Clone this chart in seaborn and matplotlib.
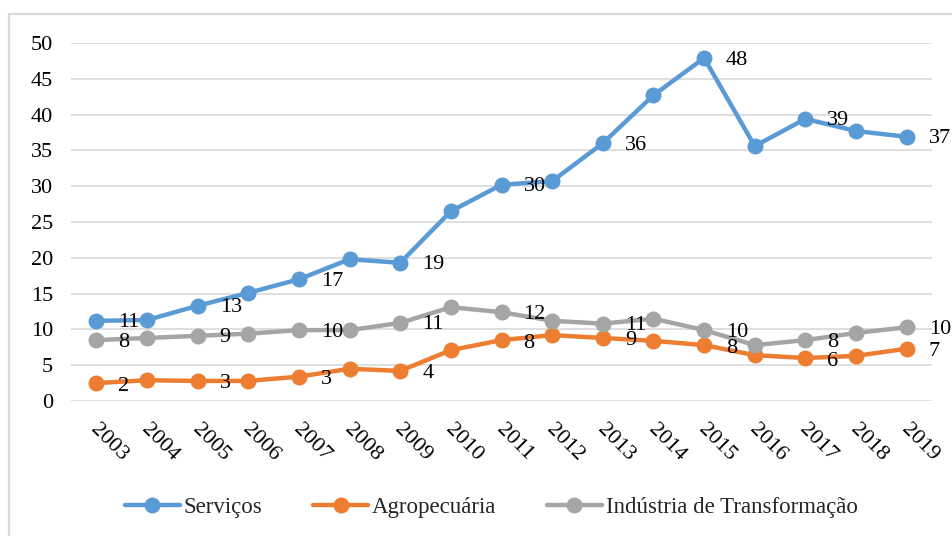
import matplotlib
matplotlib.use("Agg")
import matplotlib.pyplot as plt
import seaborn as sns
import pandas as pd
from matplotlib.lines import Line2D
from matplotlib.transforms import ScaledTranslation

years = ["2003", "2004", "2005", "2006", "2007", "2008", "2009", "2010", "2011",
         "2012", "2013", "2014", "2015", "2016", "2017", "2018", "2019"]
servicos = [11.2, 11.3, 13.3, 15.1, 17.0, 19.8, 19.3, 26.5, 30.2, 30.7, 36.0,
            42.7, 47.9, 35.6, 39.4, 37.7, 36.9]
agro = [2.5, 2.9, 2.8, 2.8, 3.4, 4.5, 4.2, 7.1, 8.5, 9.2, 8.8, 8.4, 7.8, 6.4,
        6.0, 6.3, 7.3]
industria = [8.5, 8.8, 9.1, 9.4, 9.9, 9.9, 10.9, 13.1, 12.4, 11.2, 10.8, 11.5,
             9.9, 7.8, 8.5, 9.5, 10.3]
series_names = ["Serviços", "Agropecuária", "Indústria de Transformação"]
series_values = [servicos, agro, industria]
colors = ["#5B9BD5", "#ED7D31", "#A5A5A5"]

sns.set_theme(style="white")
plt.rcParams["font.family"] = ["Liberation Serif", "DejaVu Serif"]

rows = []
for name, vals in zip(series_names, series_values):
    for i, (y, v) in enumerate(zip(years, vals)):
        rows.append({"pos": i, "year": y, "value": v, "series": name})
df = pd.DataFrame(rows)

fig = plt.figure(figsize=(9.52, 5.36), dpi=100)
ax = fig.add_axes([0.0746, 0.2519, 0.9044, 0.6679])

sns.lineplot(data=df, x="pos", y="value", hue="series", hue_order=series_names,
             palette=colors, marker="o", markersize=11.5, markeredgewidth=0,
             linewidth=3.2, ax=ax, legend=False, sort=False)

ax.set_xlim(-0.5, len(years) - 0.5)
ax.set_ylim(0, 50)
ax.set_yticks(range(0, 51, 5))
ax.set_xticks(range(len(years)))
ax.set_xticklabels(years, rotation=-45, ha="left", va="top", rotation_mode="anchor")
ax.tick_params(axis="both", length=0, labelsize=16, colors="black")
ax.tick_params(axis="x", pad=14)
ax.tick_params(axis="y", pad=13)
for lbl in ax.get_xticklabels():
    lbl.set_transform(lbl.get_transform() + ScaledTranslation(0.04, 0, fig.dpi_scale_trans))
ax.grid(axis="y", color="#D9D9D9", linewidth=1.2)
ax.grid(axis="x", visible=False)
for s in ax.spines.values():
    s.set_visible(False)
ax.set_xlabel("")
ax.set_ylabel("")
ax.set_axisbelow(True)

# data labels on every other point
offsets = [(22, -2), (22, -3), (22, -2)]
for vals, off in zip(series_values, offsets):
    for i in range(0, len(vals), 2):
        ax.annotate(f"{round(vals[i])}", (i, vals[i]), xytext=off,
                    textcoords="offset pixels", ha="left", va="center",
                    fontsize=16, color="black")

handles = [Line2D([0], [0], color=c, lw=3.2, marker="o", markersize=11.5,
                  markeredgewidth=0) for c in colors]
fig.legend(handles, series_names, loc="center", bbox_to_anchor=(0.516, 0.054),
           ncol=3, frameon=False, fontsize=16.5, handlelength=2.4,
           handletextpad=0.17, columnspacing=2.2)

# chart area border (left and top visible)
fig.add_artist(Line2D([9 / 952, 9 / 952], [0, 1 - 14 / 536], color="#D9D9D9",
                      lw=1.6, transform=fig.transFigure))
fig.add_artist(Line2D([9 / 952, 1], [1 - 14 / 536, 1 - 14 / 536], color="#D9D9D9",
                      lw=1.6, transform=fig.transFigure))

fig.savefig("out.png", dpi=100)
